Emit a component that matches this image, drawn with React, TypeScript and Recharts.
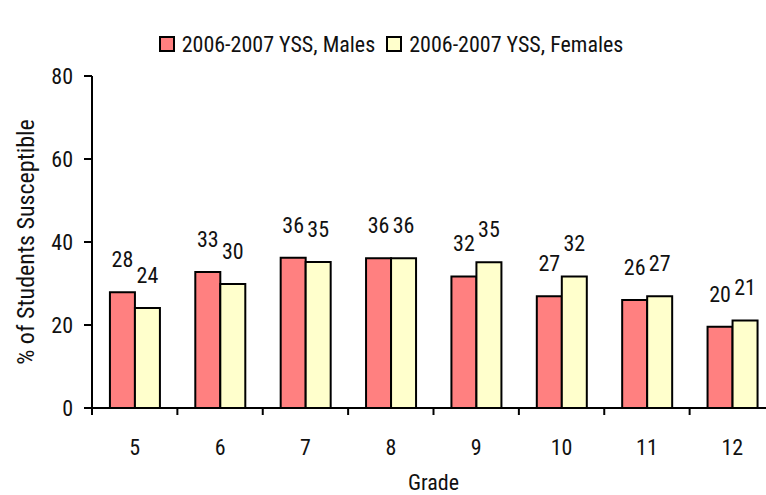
import React from 'react'
import { BarChart, Bar, XAxis, YAxis, Legend, LabelList, Label } from 'recharts'

const grades = ['5', '6', '7', '8', '9', '10', '11', '12']
const males = [27.9, 32.8, 36.2, 36.1, 31.7, 26.9, 26.0, 19.6]
const females = [24.1, 29.9, 35.2, 36.1, 35.1, 31.7, 26.9, 21.1]
const yTicks = [0, 20, 40, 60, 80]
const seriesNames = ['2006-2007 YSS, Males', '2006-2007 YSS, Females']

const data = grades.map((g, i) => ({ grade: g, males: males[i], females: females[i] }))

const FONT = 'Roboto, sans-serif'
const CHART_W = 776
const CHART_H = 495
const Y_W = 92
const MARGIN_R = 1
const BAND = (CHART_W - Y_W - MARGIN_R) / grades.length

const COLORS = ['#FF8080', '#FFFFCC']
const textStyle = { fontSize: 22, fontFamily: FONT, fontStretch: '75%', fill: '#111' }

const GradeTick = (props: any) => {
    const { x, y, payload } = props
    const left = x - BAND / 2
    return (
        <g>
            <line x1={left} y1={y} x2={left} y2={y + 7} stroke="#000" strokeWidth={2} />
            <text x={x} y={y + 47} textAnchor="middle" style={textStyle}>
                {payload.value}
            </text>
        </g>
    )
}

const LegendBox = () => (
    <div style={{ height: 76, width: 766, boxSizing: 'border-box', paddingLeft: 16, paddingTop: 12, display: 'flex', justifyContent: 'center', fontFamily: FONT, fontStretch: '75%', fontSize: 22, color: '#111' }}>
        {seriesNames.map((name, i) => (
            <div key={name} style={{ display: 'flex', alignItems: 'center', marginRight: i === 0 ? 11 : 0 }}>
                <span style={{ display: 'inline-block', width: 12, height: 12, border: '2px solid #000', background: COLORS[i], marginRight: 7 }} />
                <span>{name}</span>
            </div>
        ))}
    </div>
)

const fmt = (v: any) => Math.round(Number(v))

export default function App() {
    return (
        <div style={{ position: 'absolute', left: 0, top: 0, width: 766, height: 495, overflow: 'hidden', background: '#fff', fontFamily: FONT, fontStretch: '75%' }}>
            <BarChart
                width={CHART_W}
                height={CHART_H}
                data={data}
                margin={{ top: 0, right: MARGIN_R, bottom: 0, left: 0 }}
                barCategoryGap="21%"
                barGap={0}
            >
                <Legend verticalAlign="top" content={<LegendBox />} wrapperStyle={{ top: 0, left: 0 }} />
                <XAxis
                    dataKey="grade"
                    height={87}
                    axisLine={{ stroke: '#000', strokeWidth: 2 }}
                    tickLine={false}
                    tickSize={0}
                    tickMargin={0}
                    tick={<GradeTick />}
                    interval={0}
                >
                    <Label value="Grade" position="insideBottom" offset={5} style={textStyle} />
                </XAxis>
                <YAxis
                    width={Y_W}
                    domain={[0, 80]}
                    ticks={yTicks}
                    interval={0}
                    axisLine={{ stroke: '#000', strokeWidth: 2 }}
                    tickLine={{ stroke: '#000', strokeWidth: 2 }}
                    tickSize={8}
                    tickMargin={11}
                    tick={{ style: textStyle }}
                >
                    <Label value="% of Students Susceptible" angle={-90} position="insideLeft" offset={25} style={{ ...textStyle, fontSize: 24, textAnchor: 'middle' }} />
                </YAxis>
                <Bar dataKey="males" name={seriesNames[0]} fill={COLORS[0]} stroke="#000" strokeWidth={2} isAnimationActive={false}>
                    <LabelList dataKey="males" position="top" offset={25} formatter={fmt} style={textStyle} />
                </Bar>
                <Bar dataKey="females" name={seriesNames[1]} fill={COLORS[1]} stroke="#000" strokeWidth={2} isAnimationActive={false}>
                    <LabelList dataKey="females" position="top" offset={25} formatter={fmt} style={textStyle} />
                </Bar>
            </BarChart>
        </div>
    )
}
